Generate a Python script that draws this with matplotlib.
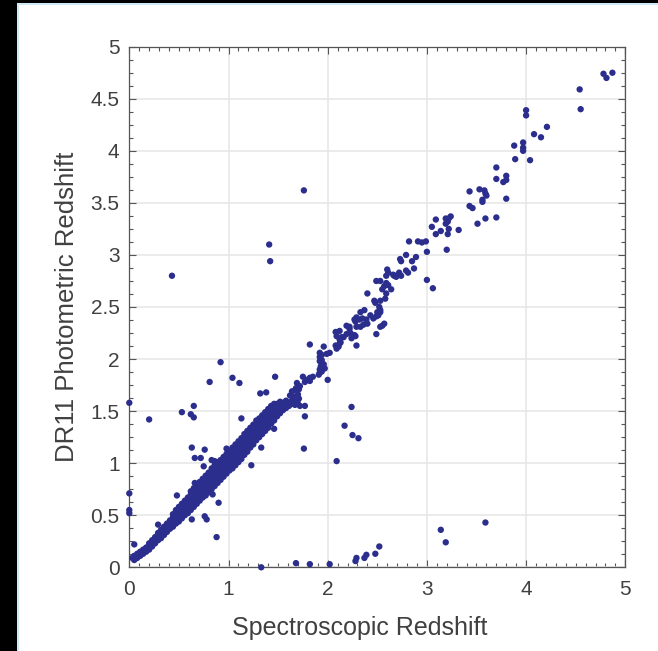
import matplotlib
matplotlib.use("Agg")
import matplotlib.pyplot as plt
from matplotlib.ticker import MultipleLocator, FormatStrFormatter
from matplotlib.patches import Rectangle

# ---------------- data (spectroscopic z, photometric z) ----------------
# dense core of the relation: spectroscopic z with the photometric z values seen at it
core_low_spec = [0.03, 0.05, 0.08, 0.11, 0.14, 0.17, 0.20, 0.23, 0.26, 0.29, 0.32, 0.35,
                 0.38, 0.41, 0.44, 0.47, 0.50, 0.53, 0.56, 0.59, 0.62, 0.65, 0.68, 0.71,
                 0.74, 0.77]
core_low_phot = [[0.09], [0.07, 0.11], [0.09, 0.13], [0.11, 0.15], [0.13, 0.17],
                 [0.15, 0.19], [0.17, 0.21, 0.23], [0.20, 0.24, 0.26], [0.23, 0.27, 0.29],
                 [0.26, 0.30, 0.33], [0.28, 0.32, 0.36], [0.31, 0.35, 0.39],
                 [0.34, 0.38, 0.42], [0.37, 0.41, 0.45], [0.39, 0.44, 0.48, 0.51],
                 [0.42, 0.46, 0.51, 0.55], [0.44, 0.49, 0.54, 0.58], [0.47, 0.52, 0.57, 0.61],
                 [0.50, 0.55, 0.60, 0.64], [0.52, 0.57, 0.62, 0.67],
                 [0.55, 0.60, 0.65, 0.70, 0.73], [0.58, 0.63, 0.68, 0.72, 0.76],
                 [0.61, 0.66, 0.71, 0.75, 0.79], [0.64, 0.69, 0.74, 0.78, 0.82],
                 [0.67, 0.72, 0.77, 0.81, 0.85], [0.69, 0.74, 0.79, 0.84, 0.88]]

core_mid_spec = [0.80, 0.83, 0.86, 0.89, 0.92, 0.95, 0.98, 1.01, 1.04, 1.07, 1.10, 1.13,
                 1.16, 1.19, 1.22, 1.25, 1.28, 1.31, 1.34, 1.37, 1.40, 1.43, 1.46]
core_mid_phot = [[0.72, 0.77, 0.82, 0.87, 0.91], [0.75, 0.80, 0.85, 0.90, 0.95, 1.03],
                 [0.78, 0.83, 0.88, 0.93, 0.98, 1.02], [0.81, 0.86, 0.91, 0.96, 1.01],
                 [0.84, 0.89, 0.94, 0.99, 1.03], [0.87, 0.92, 0.97, 1.02, 1.06],
                 [0.90, 0.95, 1.00, 1.05, 1.09, 1.14], [0.93, 0.98, 1.03, 1.08, 1.12],
                 [0.95, 1.00, 1.05, 1.10, 1.15], [0.98, 1.03, 1.08, 1.13, 1.18],
                 [1.01, 1.06, 1.11, 1.16, 1.21], [1.04, 1.09, 1.14, 1.19, 1.24],
                 [1.08, 1.13, 1.18, 1.23, 1.28], [1.11, 1.16, 1.21, 1.26, 1.31],
                 [1.15, 1.20, 1.25, 1.30, 1.34], [1.18, 1.23, 1.28, 1.33, 1.37],
                 [1.22, 1.27, 1.31, 1.36, 1.41], [1.25, 1.30, 1.34, 1.39, 1.43],
                 [1.28, 1.33, 1.37, 1.42, 1.46], [1.31, 1.36, 1.40, 1.45, 1.49],
                 [1.34, 1.39, 1.44, 1.48, 1.52], [1.38, 1.42, 1.47, 1.51, 1.55],
                 [1.41, 1.45, 1.49, 1.53, 1.57]]

core_top_spec = [1.49, 1.52, 1.55, 1.58, 1.61, 1.64, 1.67, 1.70, 1.72]
core_top_phot = [[1.45, 1.49, 1.53, 1.57], [1.48, 1.52, 1.56, 1.59], [1.51, 1.55, 1.58],
                 [1.53, 1.57, 1.60], [1.55, 1.58], [1.57, 1.60], [1.56, 1.59],
                 [1.57, 1.61], [1.55]]

# sparse high-redshift part of the relation
high_spec = [1.64, 1.67, 1.70, 1.71, 1.65, 1.62, 1.69, 1.72, 1.68, 1.71,
             1.82, 1.85, 1.79, 1.82, 1.77, 1.75, 2.00, 1.92, 1.94, 1.92, 1.91,
             1.92, 1.94, 1.99, 2.02, 1.92, 1.94, 1.92, 1.96, 1.93, 1.95, 1.97,
             1.82, 1.96, 2.12, 2.13, 2.11, 2.09, 2.08, 2.29,
             2.08, 2.12, 2.16, 2.19, 2.23, 2.27, 2.24, 2.28, 2.09, 2.12, 2.14,
             2.19, 2.22, 2.22, 2.29, 2.27, 2.32, 2.35, 2.39, 2.43, 2.40, 2.36, 2.33,
             2.29, 2.28, 2.49, 2.51, 2.53, 2.46, 2.57, 2.55, 2.53, 2.49, 2.37, 2.33,
             2.47, 2.48, 2.53, 2.52, 2.53, 2.50, 2.40, 2.59, 2.58, 2.59, 2.61, 2.64,
             2.55, 2.57, 2.49, 2.53, 2.59, 2.61, 2.66, 2.67, 2.69, 2.72, 2.71, 2.74,
             2.60, 2.79, 2.81, 2.87, 2.73, 2.74, 2.85, 2.79, 2.89, 3.00, 3.00, 3.06,
             2.82, 2.91, 2.95, 2.99, 3.05, 3.09, 3.09, 3.14, 3.19, 3.22, 3.24, 3.21,
             3.19, 3.22, 3.21, 3.32, 3.20, 3.43, 3.51, 3.59, 3.70, 3.43, 3.46, 3.56,
             3.80, 3.53, 3.58, 3.59, 3.60, 3.56, 3.70, 3.70, 3.80, 3.80, 3.77,
             3.88, 3.97, 3.97, 3.97, 4.04, 3.89, 4.00, 4.00, 4.08, 4.15, 4.21,
             4.54, 4.55, 4.78, 4.81, 4.87]
high_phot = [1.69, 1.70, 1.66, 1.62, 1.64, 1.65, 1.77, 1.74, 1.72, 1.71,
             1.82, 1.83, 1.80, 1.79, 1.78, 1.83, 1.80, 1.90, 1.88, 1.87, 1.85,
             2.06, 2.04, 2.05, 2.06, 2.02, 1.99, 1.98, 1.95, 1.93, 1.91, 1.91,
             2.14, 2.12, 2.15, 2.16, 2.12, 2.10, 2.13, 2.13,
             2.26, 2.27, 2.21, 2.24, 2.25, 2.23, 2.20, 2.22, 2.22, 2.19, 2.21,
             2.32, 2.29, 2.31, 2.40, 2.38, 2.38, 2.39, 2.38, 2.42, 2.34, 2.33, 2.31,
             2.31, 2.36, 2.41, 2.42, 2.45, 2.39, 2.34, 2.32, 2.31, 2.24, 2.47, 2.45,
             2.56, 2.54, 2.56, 2.50, 2.47, 2.45, 2.63, 2.63, 2.58, 2.73, 2.71, 2.67,
             2.67, 2.70, 2.75, 2.75, 2.80, 2.83, 2.81, 2.80, 2.79, 2.83, 2.81, 2.80,
             2.86, 2.85, 2.83, 2.87, 2.96, 2.94, 2.94, 3.00, 2.98, 3.03, 2.76, 2.68,
             3.13, 3.13, 3.12, 3.13, 3.27, 3.34, 3.20, 3.23, 3.35, 3.35, 3.37, 3.32,
             3.30, 3.25, 3.20, 3.24, 3.05, 3.61, 3.30, 3.35, 3.36, 3.47, 3.45, 3.51,
             3.54, 3.63, 3.62, 3.59, 3.57, 3.53, 3.84, 3.73, 3.76, 3.72, 3.70,
             4.05, 4.08, 4.03, 4.00, 3.91, 3.92, 4.39, 4.34, 4.16, 4.13, 4.23,
             4.59, 4.40, 4.74, 4.70, 4.75]

# catastrophic outliers
outlier_spec = [0.43, 1.41, 1.42, 1.76, 0.92, 0.81, 1.04, 1.11, 1.47, 1.32, 1.38,
                0.00, 0.65, 0.53, 0.62, 0.65, 0.20, 1.13, 1.77, 1.77, 1.46, 1.33,
                1.76, 1.23, 0.63, 0.76, 0.66, 0.72, 0.75, 0.00, 0.00, 0.00, 0.48,
                0.66, 0.84, 0.90, 0.76, 0.78, 0.88, 0.63, 0.05, 0.29, 0.48,
                2.24, 2.17, 2.25, 2.31, 2.09,
                1.33, 1.68, 1.82, 2.02, 2.28, 2.29, 2.37, 2.39, 2.48, 2.52,
                3.14, 3.19, 3.59]
outlier_phot = [2.80, 3.10, 2.94, 3.62, 1.97, 1.78, 1.82, 1.77, 1.83, 1.67, 1.68,
                1.58, 1.55, 1.49, 1.47, 1.44, 1.42, 1.43, 1.55, 1.45, 1.33, 1.15,
                1.14, 0.98, 1.15, 1.13, 1.05, 1.05, 0.97, 0.71, 0.55, 0.52, 0.69,
                0.81, 0.70, 0.62, 0.49, 0.46, 0.29, 0.46, 0.22, 0.41, 0.53,
                1.54, 1.36, 1.27, 1.24, 1.02,
                0.00, 0.04, 0.03, 0.03, 0.06, 0.09, 0.09, 0.12, 0.13, 0.20,
                0.36, 0.24, 0.43]

x_ticks = [0, 1, 2, 3, 4, 5]
y_ticks = [0, 0.5, 1, 1.5, 2, 2.5, 3, 3.5, 4, 4.5, 5]
x_label = "Spectroscopic Redshift"
y_label = "DR11 Photometric Redshift"

# ---------------- assemble ----------------
spec, phot = [], []
for xs, ys in ((core_low_spec, core_low_phot), (core_mid_spec, core_mid_phot),
               (core_top_spec, core_top_phot)):
    for xv, yl in zip(xs, ys):
        for yv in yl:
            spec.append(xv)
            phot.append(yv)
spec += high_spec + outlier_spec
phot += high_phot + outlier_phot

# ---------------- figure ----------------
plt.rcParams['font.family'] = ['Liberation Sans', 'DejaVu Sans']
W, H = 658, 651
fig = plt.figure(figsize=(W / 100, H / 100), dpi=100)
fig.patch.set_facecolor('white')

# screenshot frame remnants
fig.patches.append(Rectangle((0, 0), 17 / W, 1, transform=fig.transFigure,
                             facecolor='black', edgecolor='none', zorder=0))
fig.patches.append(Rectangle((0, 1 - 3 / H), 1, 3 / H, transform=fig.transFigure,
                             facecolor='black', edgecolor='none', zorder=0))
fig.patches.append(Rectangle((17 / W, 0), 2 / W, 1 - 3 / H, transform=fig.transFigure,
                             facecolor='#cfe9f7', edgecolor='none', zorder=0))
fig.patches.append(Rectangle((17 / W, 1 - 5 / H), 1 - 17 / W, 2 / H,
                             transform=fig.transFigure,
                             facecolor='#cfe9f7', edgecolor='none', zorder=0))

ax = fig.add_axes([129.3 / W, (H - 567.3) / H, 496.0 / W, 520.6 / H])
ax.set_xlim(0, 5)
ax.set_ylim(0, 5)

ax.scatter(spec, phot, s=21, color='#2b2e8c', edgecolors='none', zorder=3,
           clip_on=False)

text_color = '#404040'
spine_color = '#555555'
ax.set_xticks(x_ticks)
ax.set_yticks(y_ticks)
ax.xaxis.set_major_formatter(FormatStrFormatter('%g'))
ax.yaxis.set_major_formatter(FormatStrFormatter('%g'))
ax.xaxis.set_minor_locator(MultipleLocator(0.1))
ax.yaxis.set_minor_locator(MultipleLocator(0.125))
ax.tick_params(which='both', direction='in', top=True, right=True,
               color=spine_color, width=0.8)
ax.tick_params(which='major', length=5, labelsize=15, labelcolor=text_color)
ax.tick_params(which='minor', length=2.6)
ax.tick_params(axis='x', which='major', pad=9.5)
ax.tick_params(axis='y', which='major', pad=7)
for sp in ax.spines.values():
    sp.set_color(spine_color)
    sp.set_linewidth(0.9)

ax.grid(True, which='major', color='#e6e6e6', linewidth=1.1)
ax.set_axisbelow(True)

ax.set_xlabel(x_label, fontsize=18, color=text_color)
ax.xaxis.set_label_coords(0.465, -0.093)
ax.set_ylabel(y_label, fontsize=18.5, color=text_color, labelpad=8)

fig.savefig('out.png', dpi=100, facecolor='white')
